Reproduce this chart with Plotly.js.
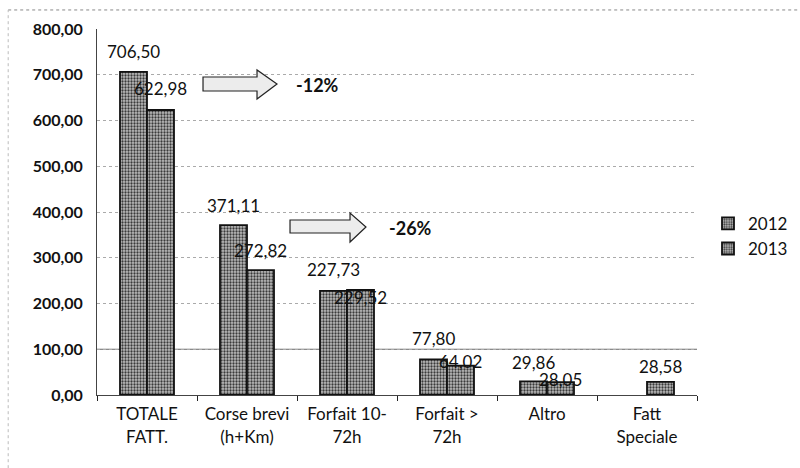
<!DOCTYPE html>
<html>
<head>
<meta charset="utf-8">
<script src="https://cdn.plot.ly/plotly-3.0.1.min.js"></script>
<style>html,body{margin:0;padding:0;background:#fff;}#chart{width:800px;height:468px;}</style>
</head>
<body>
<div id="chart"></div>
<script>
const categories = ["TOTALE<br>FATT.", "Corse brevi<br>(h+Km)", "Forfait 10-<br>72h", "Forfait ><br>72h", "Altro", "Fatt<br>Speciale"];
const values2012 = [706.50, 371.11, 227.73, 77.80, 29.86, null];
const values2013 = [622.98, 272.82, 229.52, 64.02, 28.05, 28.58];
const yTicks = [0, 100, 200, 300, 400, 500, 600, 700, 800];
// label offsets (px above bar top) as placed in the original chart
const labelShift2012 = [20, 20, 21, 21, 19, 0];
const labelShift2013 = [21, 20, -8, 4, 3, 15];

const fmt = v => v.toFixed(2).replace(".", ",");
const FONT = "Lato, 'Open Sans', sans-serif";
const BAR_OFF = 0.135;

function barTrace(name, vals) {
  return {
    type: "bar", name: name, x: categories, y: vals,
    textposition: "none", cliponaxis: false,
    marker: {
      color: "#a6a6a6",
      line: {color: "#111", width: 1.8},
      pattern: {shape: ".", fgcolor: "#3a3a3a", bgcolor: "#bdbdbd", size: 3, solidity: 0.45}
    },
    hoverinfo: "skip"
  };
}

const data = [barTrace("2012", values2012), barTrace("2013", values2013)];

function arrowPath(x0, xh, xt, bt, bb, ht, hb, ty) {
  return `M ${x0} ${bt} L ${xh} ${bt} L ${xh} ${ht} L ${xt} ${ty} L ${xh} ${hb} L ${xh} ${bb} L ${x0} ${bb} Z`;
}

const labelAnns = [];
values2012.forEach((v, i) => {
  if (v === null) return;
  labelAnns.push({xref: "x", yref: "y", x: i - BAR_OFF, y: v, yshift: labelShift2012[i],
    xanchor: "center", yanchor: "middle", showarrow: false, text: fmt(v),
    font: {family: FONT, size: 17, color: "#111"}});
});
values2013.forEach((v, i) => {
  if (v === null) return;
  labelAnns.push({xref: "x", yref: "y", x: i + BAR_OFF, y: v, yshift: labelShift2013[i],
    xanchor: "center", yanchor: "middle", showarrow: false, text: fmt(v),
    font: {family: FONT, size: 17, color: "#111"}});
});

const layout = {
  width: 800, height: 468,
  margin: {l: 97, r: 103, t: 29, b: 73},
  paper_bgcolor: "#fff", plot_bgcolor: "#fff",
  separators: ",.",
  barmode: "group", bargap: 0.46, bargroupgap: 0,
  showlegend: true,
  legend: {xref: "container", yref: "container", x: 0.885, xanchor: "left", y: 0.495, yanchor: "middle",
           font: {family: FONT, size: 17, color: "#111"}, tracegroupgap: 4, itemwidth: 30,
           bgcolor: "rgba(0,0,0,0)"},
  xaxis: {
    type: "category", tickson: "boundaries", ticks: "outside", ticklen: 5, tickcolor: "#222",
    showline: true, linecolor: "#444", linewidth: 1,
    tickfont: {family: FONT, size: 17, color: "#111"},
    showgrid: false, ticklabelstandoff: 4
  },
  yaxis: {
    range: [0, 800], tickvals: yTicks, ticktext: yTicks.map(fmt),
    showline: true, linecolor: "#444", linewidth: 1,
    gridcolor: "#aaa", griddash: "dot", gridwidth: 1,
    zeroline: false,
    tickfont: {family: FONT, size: 16, color: "#111", weight: "bold"},
    ticks: "", ticklabelstandoff: 10
  },
  shapes: [
    {type: "line", xref: "paper", yref: "y", x0: 0, x1: 1, y0: 100, y1: 100, line: {color: "#666", width: 1}, layer: "below"},
    {type: "line", xref: "paper", yref: "paper", x0: -0.148, x1: 1.17, y0: 1.052, y1: 1.052, line: {color: "#888", width: 1, dash: "dot"}},
    {type: "line", xref: "paper", yref: "paper", x0: -0.148, x1: -0.148, y0: -0.2, y1: 1.052, line: {color: "#bbb", width: 1, dash: "dot"}},
    {type: "path", xref: "paper", yref: "paper",
     path: arrowPath(0.1767, 0.2667, 0.30, 0.8689, 0.8306, 0.888, 0.8087, 0.8497),
     fillcolor: "#ececec", line: {color: "#222", width: 1.2}},
    {type: "path", xref: "paper", yref: "paper",
     path: arrowPath(0.3217, 0.4217, 0.4483, 0.4781, 0.4426, 0.4973, 0.418, 0.459),
     fillcolor: "#ececec", line: {color: "#222", width: 1.2}}
  ],
  annotations: labelAnns.concat([
    {xref: "paper", yref: "paper", x: 0.368, y: 0.847, xanchor: "center", yanchor: "middle",
     text: "<b>-12%</b>", showarrow: false, font: {family: FONT, size: 18, color: "#111"}},
    {xref: "paper", yref: "paper", x: 0.5217, y: 0.456, xanchor: "center", yanchor: "middle",
     text: "<b>-26%</b>", showarrow: false, font: {family: FONT, size: 18, color: "#111"}}
  ])
};

Plotly.newPlot("chart", data, layout, {displayModeBar: false, staticPlot: true});
</script>
</body>
</html>
